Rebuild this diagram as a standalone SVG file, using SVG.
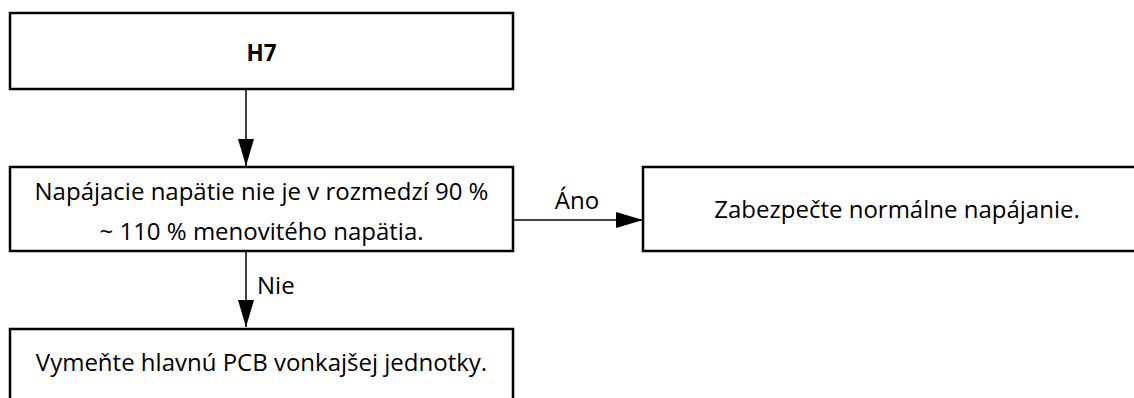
<svg xmlns="http://www.w3.org/2000/svg" width="1134" height="398" viewBox="0 0 1134 398">
<style>
.box{fill:#fff;stroke:#000;stroke-width:2.5}
.t{font-family:"Open Sans","Liberation Sans",sans-serif;font-size:24px;fill:#000;text-anchor:middle}
.b{font-weight:bold}
.l{font-family:"Open Sans","Liberation Sans",sans-serif;font-size:24px;fill:#000}
.c{stroke:#000;stroke-width:1.5;fill:none}
</style>
<defs>
<marker id="ah" markerWidth="27" markerHeight="16" refX="27" refY="8" orient="auto" markerUnits="userSpaceOnUse">
<path d="M0,0 L27,8 L0,16 Z" fill="#000"/>
</marker>
</defs>
<rect width="1134" height="398" fill="#fff"/>
<g id="n1">
<rect class="box" x="10" y="13" width="503" height="76"/>
<text class="t b" x="261.5" y="61" style="font-size:22.5px">H7</text>
</g>
<g id="n2">
<rect class="box" x="10" y="167" width="503" height="84"/>
<text class="t" x="261.5" y="200">Napájacie napätie nie je v rozmedzí 90 %</text>
<text class="t" x="261.5" y="240">~ 110 % menovitého napätia.</text>
</g>
<g id="n3">
<rect class="box" x="643" y="167" width="510" height="84"/>
<text class="t" x="897" y="218">Zabezpečte normálne napájanie.</text>
</g>
<g id="n4">
<rect class="box" x="10" y="329" width="503" height="80"/>
<text class="t" x="261.5" y="371">Vymeňte hlavnú PCB vonkajšej jednotky.</text>
</g>
<g id="connectors">
<line class="c" x1="246" y1="89" x2="246" y2="166" marker-end="url(#ah)"/>
<line class="c" x1="513" y1="220" x2="643" y2="220" marker-end="url(#ah)"/>
<line class="c" x1="246" y1="251" x2="246" y2="327" marker-end="url(#ah)"/>
<text class="l" x="577" y="209" text-anchor="middle">Áno</text>
<text class="l" x="257" y="294">Nie</text>
</g>
</svg>
